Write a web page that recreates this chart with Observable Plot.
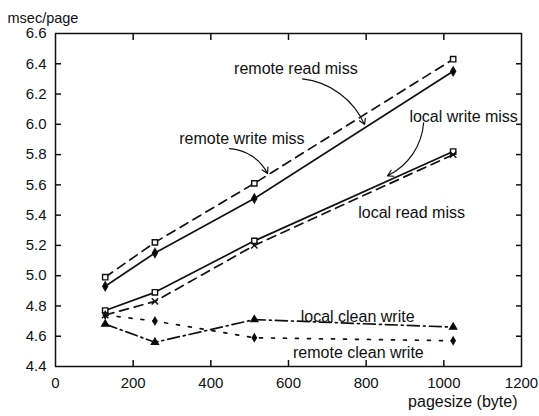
<!DOCTYPE html>
<html><head><meta charset="utf-8">
<script src="https://cdn.jsdelivr.net/npm/d3@7"></script>
<script src="https://cdn.jsdelivr.net/npm/@observablehq/plot@0.6"></script>
<style>body{margin:0;background:#fff}</style>
</head><body><div id="chart"></div>
<script>
const pagesizes = [128, 256, 512, 1024];
const seriesNames = ["remote write miss", "remote read miss", "local write miss", "local read miss", "local clean write", "remote clean write"];
const remoteWriteMiss = [4.99, 5.22, 5.61, 6.43];
const remoteReadMiss = [4.93, 5.15, 5.51, 6.35];
const localWriteMiss = [4.77, 4.89, 5.23, 5.82];
const localReadMiss = [4.74, 4.83, 5.20, 5.80];
const localCleanWrite = [4.68, 4.56, 4.71, 4.66];
const remoteCleanWrite = [4.74, 4.70, 4.59, 4.57];
const xTicks = [0, 200, 400, 600, 800, 1000, 1200];
const yTicks = [4.4, 4.6, 4.8, 5.0, 5.2, 5.4, 5.6, 5.8, 6.0, 6.2, 6.4, 6.6];

// annotation labels (data coordinates)
const labelText = ["remote read miss", "remote write miss", "local write miss", "local read miss", "local clean write", "remote clean write"];
const labelX = [619, 480, 1051, 917, 778, 780];
const labelY = [6.368, 5.906, 6.05, 5.417, 4.73, 4.49];

// arrows (data coordinates)
const arrowX1 = [636, 448, 948];
const arrowY1 = [6.30, 5.84, 6.01];
const arrowX2 = [796, 546, 855];
const arrowY2 = [5.998, 5.675, 5.66];

const allValues = [remoteWriteMiss, remoteReadMiss, localWriteMiss, localReadMiss, localCleanWrite, remoteCleanWrite];
const styles = [
  {dash: "9,6", symbol: "square", fill: "white", r: 3},
  {dash: null, symbol: "diamond", fill: "black", r: 2.6},
  {dash: null, symbol: "square", fill: "white", r: 3},
  {dash: "9,6", symbol: "times", fill: "none", r: 3},
  {dash: "12,4,2,4", symbol: "triangle", fill: "black", r: 2.6},
  {dash: "3,9", symbol: "diamond", fill: "black", r: 2.2}
];

const W = 539, H = 416, ML = 55, MR = 18, MT = 33, MB = 50, TICK = 6;

const series = seriesNames.map((name, i) => pagesizes.map((p, j) => ({series: name, x: p, y: allValues[i][j]})));
const labels = labelText.map((t, i) => ({t, x: labelX[i], y: labelY[i]}));
const arrows = arrowX1.map((x1, i) => ({x1, y1: arrowY1[i], x2: arrowX2[i], y2: arrowY2[i]}));
const innerXTicks = xTicks.slice(1, -1);
const innerYTicks = yTicks.slice(1, -1);

const marks = [
  Plot.frame({stroke: "#111", strokeWidth: 1.5}),
  // inward tick marks on all four sides
  Plot.axisX(innerXTicks, {anchor: "bottom", tickSize: TICK, dy: -TICK, fill: "none", stroke: "#111", strokeWidth: 1.5, label: null}),
  Plot.axisX(innerXTicks, {anchor: "top", tickSize: TICK, dy: TICK, fill: "none", stroke: "#111", strokeWidth: 1.5, label: null}),
  Plot.axisY(innerYTicks, {anchor: "left", tickSize: TICK, dx: TICK, fill: "none", stroke: "#111", strokeWidth: 1.5, label: null}),
  Plot.axisY(innerYTicks, {anchor: "right", tickSize: TICK, dx: -TICK, fill: "none", stroke: "#111", strokeWidth: 1.5, label: null}),
  Plot.axisX(xTicks, {anchor: "bottom", tickSize: 0, tickPadding: 11, tickFormat: d3.format("d"), fontSize: 15, label: null}),
  Plot.axisY(yTicks, {anchor: "left", tickSize: 0, tickPadding: 9, tickFormat: d3.format(".1f"), fontSize: 15, label: null})
];
series.forEach((rows, i) => {
  const s = styles[i];
  marks.push(Plot.line(rows, {x: "x", y: "y", stroke: "#111", strokeWidth: 1.7, strokeDasharray: s.dash}));
});
series.forEach((rows, i) => {
  const s = styles[i];
  marks.push(Plot.dot(rows, {x: "x", y: "y", symbol: s.symbol, r: s.r, stroke: "#111", fill: s.fill, strokeWidth: 1.4}));
});
marks.push(Plot.arrow(arrows, {x1: "x1", y1: "y1", x2: "x2", y2: "y2", bend: 30, headLength: 8, stroke: "#111", strokeWidth: 1.2}));
marks.push(Plot.text(labels, {x: "x", y: "y", text: "t", fontSize: 16, fill: "#111"}));
marks.push(Plot.text(["msec/page"], {frameAnchor: "top-left", textAnchor: "start", dx: -48, dy: -21, fontSize: 14.5, fill: "#111"}));
marks.push(Plot.text(["pagesize (byte)"], {frameAnchor: "bottom-right", textAnchor: "end", dx: -4, dy: 40, fontSize: 16, fill: "#111"}));

const chart = Plot.plot({
  width: W,
  height: H,
  marginLeft: ML,
  marginRight: MR,
  marginTop: MT,
  marginBottom: MB,
  x: {domain: [0, 1200]},
  y: {domain: [4.4, 6.6]},
  style: {fontFamily: "'Liberation Sans', Arial, sans-serif", fontSize: "15px", color: "#111", background: "white"},
  marks
});
document.getElementById("chart").appendChild(chart);
</script>
</body></html>
